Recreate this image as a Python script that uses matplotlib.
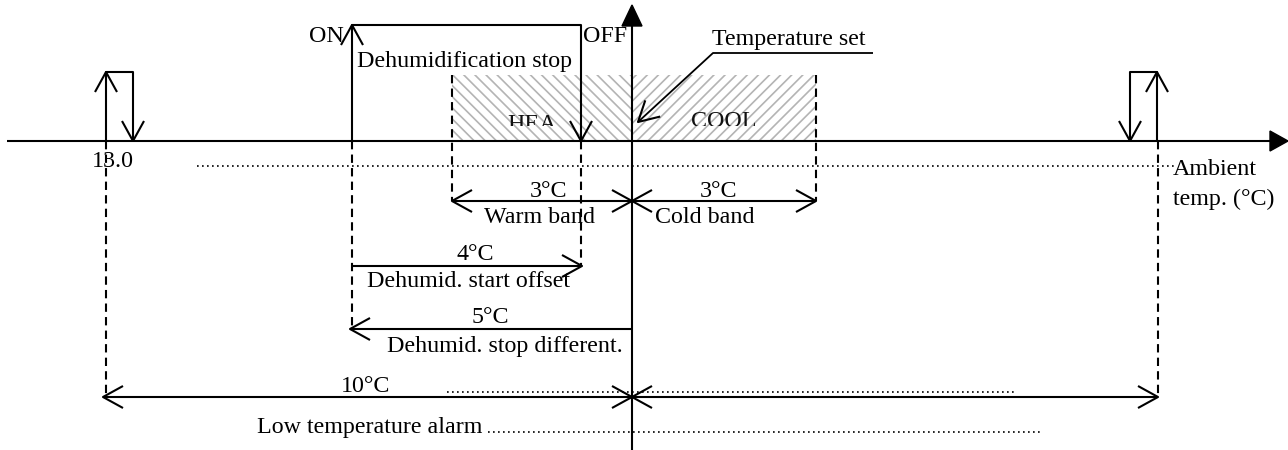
import matplotlib.pyplot as plt
from matplotlib.patches import Rectangle, Polygon
import numpy as np

# diagram texts and values
band_values = ["3°C", "3°C"]
band_names = ["Warm band", "Cold band"]
offset_values = ["4°C", "5°C", "10°C"]
offset_names = ["Dehumid. start offset", "Dehumid. stop different.", "Low temperature alarm"]
zone_names = ["HEA", "COOL"]
alarm_value = "13.0"

# schematic layout (pixel positions, not to scale)
x_lo, x_on, x_heat, x_off, x_set, x_cool, x_hi = 106, 352, 452, 581, 632, 816, 1158
y_axis = 141

plt.rcParams['font.family'] = ['Liberation Serif', 'DejaVu Serif']
plt.rcParams['hatch.linewidth'] = 1.2
FS = 17.3
LW = 1.5

fig = plt.figure(figsize=(12.88, 4.5), dpi=100)
ax = fig.add_axes([0, 0, 1, 1])
ax.set_xlim(0, 1288)
ax.set_ylim(450, 0)
ax.axis('off')


def line(x, y, **kw):
    kw.setdefault('color', 'black')
    kw.setdefault('lw', LW)
    ax.plot(x, y, solid_capstyle='butt', **kw)


def dashed(x, y0, y1):
    line([x, x], [y0, y1], linestyle=(0, (4, 2.5)))


def head(x, y, dx, dy, L=20, W=11):
    # open arrow head, (dx,dy) points towards the tip
    d = np.array([dx, dy], float)
    d = d / np.hypot(*d)
    n = np.array([-d[1], d[0]])
    tip = np.array([x, y])
    a = tip - L * d + W * n
    b = tip - L * d - W * n
    line([a[0], x, b[0]], [a[1], y, b[1]])


def txt(x, y, s, ha='center', **kw):
    return ax.text(x, y, s, ha=ha, va='baseline', fontsize=FS, **kw)


# hatched heating / cooling zones
ax.add_patch(Rectangle((x_heat, 75), x_set - x_heat, y_axis - 75, facecolor='none',
                       edgecolor='#b4b4b4', hatch='\\\\\\', lw=0))
ax.add_patch(Rectangle((x_set, 75), x_cool - x_set, y_axis - 75, facecolor='none',
                       edgecolor='#b4b4b4', hatch='///', lw=0))
clip = Rectangle((x_heat, 75), x_cool - x_heat, 50.5, transform=ax.transData)
for s, xc, yb in zip(zone_names, [532, 724], [130, 127]):
    t = txt(xc, yb, s, clip_on=True, color='#111111')
    t.set_clip_path(clip)

# axes
line([7, 1272], [y_axis, y_axis])
ax.add_patch(Polygon([[1288, y_axis], [1270, y_axis - 10], [1270, y_axis + 10]], color='black'))
line([x_set, x_set], [450, 24])
ax.add_patch(Polygon([[x_set, 5], [x_set - 10, 26], [x_set + 10, 26]], color='black'))

# dehumidification on/off
line([x_on, x_on, x_off, x_off], [y_axis, 25, 25, y_axis])
head(x_on, 25, 0, -1)
head(x_off, y_axis, 0, 1)
txt(344, 42, "ON", ha='right')
txt(583, 42, "OFF", ha='left')
txt(465, 67, "Dehumidification stop")

# low / high alarm symbols
line([x_lo, x_lo, 133, 133], [y_axis, 72, 72, y_axis])
head(x_lo, 72, 0, -1)
head(133, y_axis, 0, 1)
line([x_hi - 1, x_hi - 1, 1130, 1130], [y_axis, 72, 72, y_axis])
head(x_hi - 1, 72, 0, -1)
head(1130, y_axis, 0, 1)
txt(113, 167, alarm_value)

# temperature set leader
line([873, 713, 638], [53, 53, 122], lw=1.3)
head(638, 122, -75, 69)
txt(712, 45, "Temperature set", ha='left')

# dotted guide lines
line([197, 1175], [166, 166], lw=1.2, linestyle=(0, (1, 2)))
txt(1173, 175, "Ambient", ha='left')
txt(1173, 205, "temp. (°C)", ha='left')

# dashed drop lines
dashed(x_heat, 75, 201)
dashed(x_cool, 75, 201)
dashed(x_off, y_axis, 266)
dashed(x_on, y_axis, 329)
dashed(x_lo, y_axis, 397)
dashed(x_hi, y_axis, 397)

# warm / cold band arrows
for (a, b), v, nm, xv, xn in zip([(x_heat, x_set), (x_set, x_cool)], band_values, band_names,
                                  [549, 719], [540, 705]):
    line([a, b], [201, 201])
    head(a, 201, -1, 0)
    head(b, 201, 1, 0)
    txt(xv, 197, v)
    txt(xn, 223, nm)

# dehumid start offset
line([x_on, x_off], [266, 266])
head(x_off + 1, 266, 1, 0)
txt(475, 260, offset_values[0])
txt(469, 287, offset_names[0])

# dehumid stop differential
line([x_set, x_on - 2], [329, 329])
head(x_on - 2, 329, -1, 0)
txt(490, 323, offset_values[1])
txt(505, 352, offset_names[1])

# low temperature alarm
line([103, 1158], [397, 397])
head(103, 397, -1, 0)
head(x_set, 397, 1, 0)
head(x_set, 397, -1, 0)
head(1158, 397, 1, 0)
txt(366, 392, offset_values[2])
txt(257, 433, offset_names[2], ha='left')
line([447, 1015], [392, 392], lw=1.2, linestyle=(0, (1, 2)))
line([488, 1040], [432, 432], lw=1.2, linestyle=(0, (1, 2)))

fig.savefig("out.png", dpi=100)
